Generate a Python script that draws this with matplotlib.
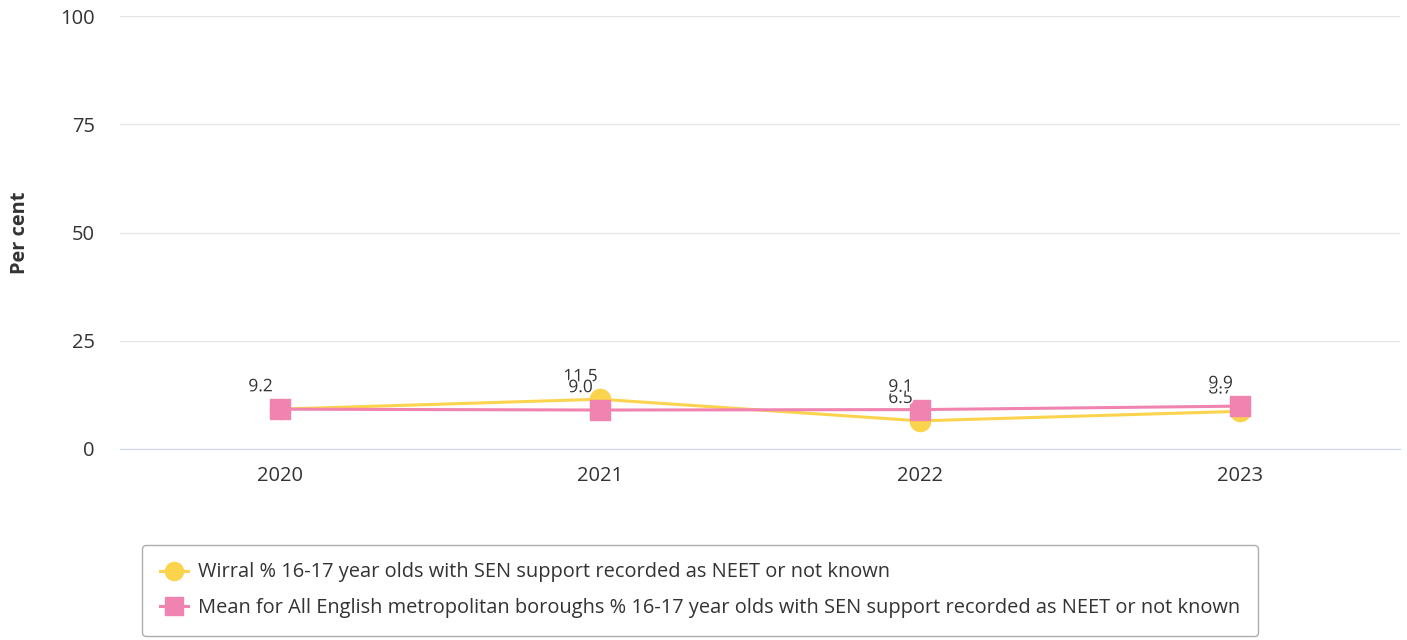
import matplotlib
matplotlib.use("Agg")
import matplotlib.pyplot as plt
import matplotlib.patheffects as pe

plt.rcParams['font.family'] = ['Open Sans', 'DejaVu Sans']

years = ["2020", "2021", "2022", "2023"]
wirral = [9.2, 11.5, 6.5, 8.7]
mean_met = [9.2, 9.0, 9.1, 9.9]
yticks = [0, 25, 50, 75, 100]
wirral_label = "Wirral % 16-17 year olds with SEN support recorded as NEET or not known"
mean_label = "Mean for All English metropolitan boroughs % 16-17 year olds with SEN support recorded as NEET or not known"

c_y = "#fcd34d"
c_p = "#f083b0"

fig = plt.figure(figsize=(14.07, 6.4), dpi=100)
ax = fig.add_axes([120/1407, 1-449/640, 1280/1407, 433/640])
x = list(range(len(years)))

ax.plot(x, wirral, color=c_y, lw=2.2, marker='o', ms=14.5, mec=c_y, mfc=c_y, zorder=3, label=wirral_label)
ax.plot(x, mean_met, color=c_p, lw=2.2, marker='s', ms=14, mec=c_p, mfc=c_p, zorder=4, label=mean_label)

stroke = [pe.withStroke(linewidth=2.5, foreground='white')]
for xi, v in zip(x, wirral):
    ax.annotate(f"{v:.1f}", (xi, v), xytext=(-14, 10), textcoords='offset points',
                ha='center', va='bottom', fontsize=12.5, color='#333333', zorder=5, path_effects=stroke)
for xi, v in zip(x, mean_met):
    ax.annotate(f"{v:.1f}", (xi, v), xytext=(-14, 10), textcoords='offset points',
                ha='center', va='bottom', fontsize=12.5, color='#333333', zorder=6, path_effects=stroke)

ax.set_xlim(-0.5, len(years) - 0.5)
ax.set_ylim(0, 100)
ax.set_yticks(yticks)
ax.set_xticks(x)
ax.set_xticklabels(years)
ax.grid(axis='y', color='#e6e6e6', lw=1)
ax.set_axisbelow(True)
for s in ['top', 'right', 'left']:
    ax.spines[s].set_visible(False)
ax.spines['bottom'].set_color('#ccd6eb')
ax.tick_params(axis='y', length=0, pad=18, labelsize=14.5, labelcolor='#333333')
ax.tick_params(axis='x', length=0, pad=12, labelsize=14.5, labelcolor='#333333')
for lbl in ax.get_yticklabels():
    lbl.set_horizontalalignment('right')
ax.set_ylabel("Per cent", fontsize=14.4, fontweight='bold', color='#333333', labelpad=22)

leg = fig.legend(loc='center', bbox_to_anchor=(700/1407, 1-590/640), ncol=1, frameon=True,
                 fontsize=14.4, fancybox=True, edgecolor='#999999', labelcolor='#333333',
                 markerscale=0.9, handlelength=1.4, borderpad=0.9, labelspacing=0.75,
                 handletextpad=0.5)
leg.get_frame().set_linewidth(1)

fig.savefig("out.png", dpi=100)
